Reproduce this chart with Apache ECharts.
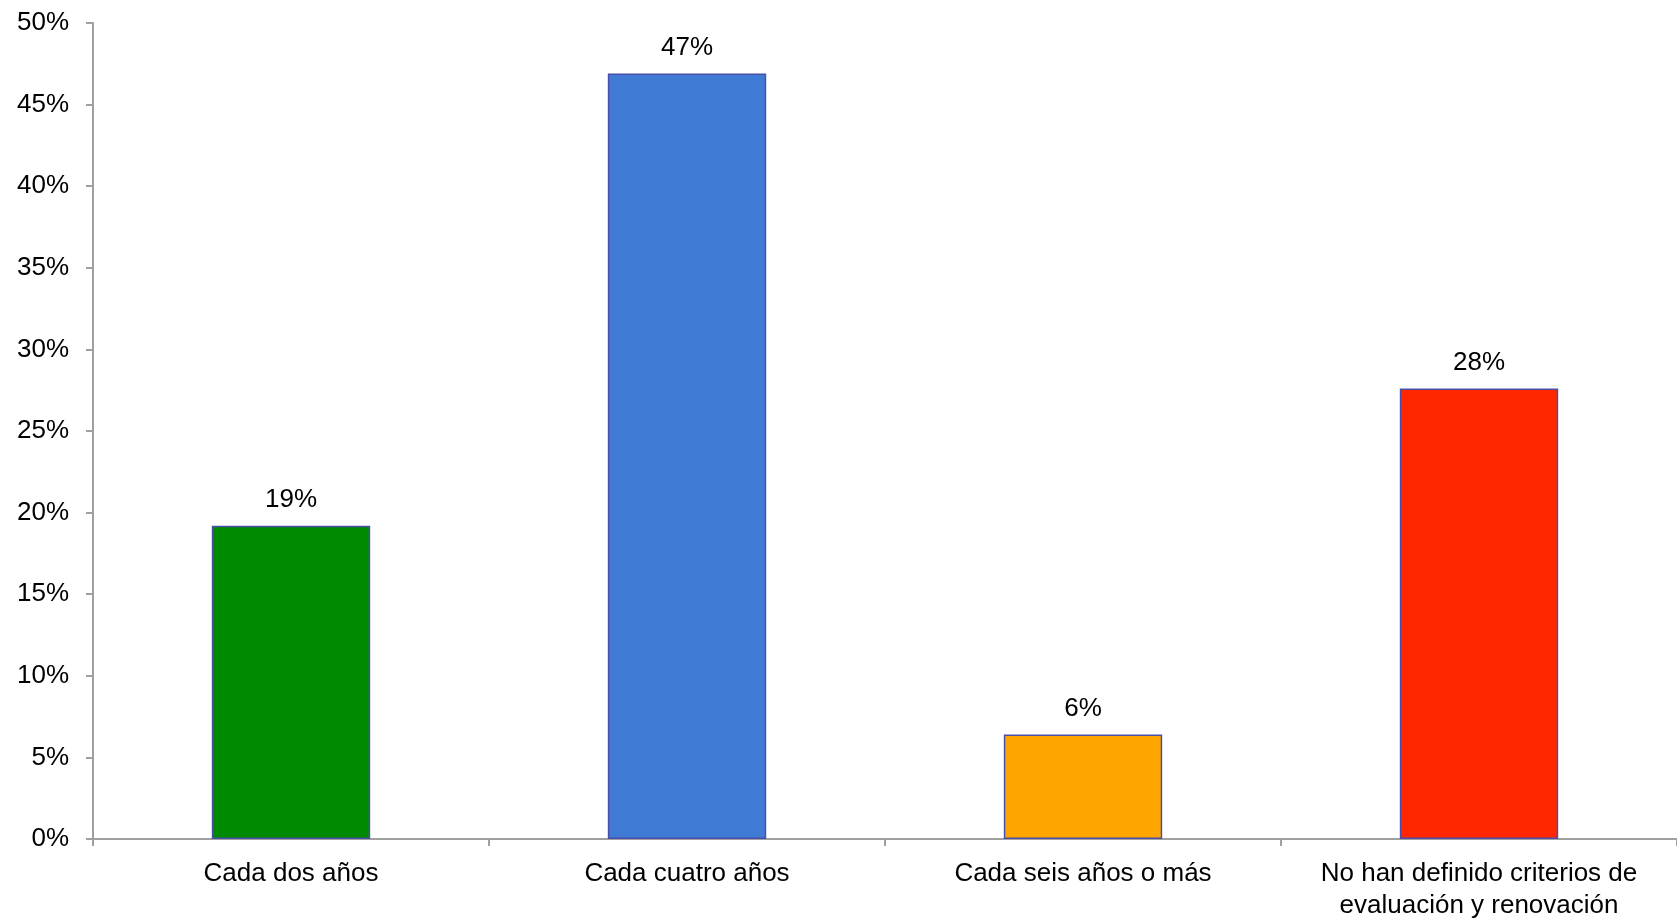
<!DOCTYPE html>
<html>
<head>
<meta charset="utf-8">
<script src="https://cdn.jsdelivr.net/npm/echarts@6/dist/echarts.min.js"></script>
<style>
html,body{margin:0;padding:0;background:#fff;}
#chart{width:1677px;height:922px;}
</style>
</head>
<body>
<div id="chart"></div>
<script>
const categories = ["Cada dos años", "Cada cuatro años", "Cada seis años o más", "No han definido criterios de\nevaluación y renovación"];
const values = [0.192, 0.469, 0.064, 0.276];
const barColors = ["#008a00", "#3f7bd4", "#ffa500", "#ff2600"];
const yMin = 0, yMax = 0.5, yStep = 0.05;

const chart = echarts.init(document.getElementById('chart'));
const font = "'Liberation Sans', Arial, Helvetica, sans-serif";
chart.setOption({
  backgroundColor: '#ffffff',
  animation: false,
  grid: { left: 93, top: 23, width: 1602, height: 818 },
  xAxis: {
    type: 'category',
    data: categories,
    axisLine: { lineStyle: { color: '#a0a0a0', width: 2 } },
    axisTick: { show: true, length: 7, lineStyle: { color: '#a0a0a0', width: 2 } },
    axisLabel: { color: '#000', fontSize: 26, fontFamily: font, margin: 19, lineHeight: 32, interval: 0 }
  },
  yAxis: {
    type: 'value',
    min: yMin, max: yMax, interval: yStep,
    splitLine: { show: false },
    axisLine: { show: true, lineStyle: { color: '#a0a0a0', width: 2 } },
    axisTick: { show: true, length: 7, lineStyle: { color: '#a0a0a0', width: 2 } },
    axisLabel: { color: '#000', fontSize: 26, fontFamily: font, margin: 24,
      formatter: v => Math.round(v * 100) + '%' }
  },
  series: [{
    type: 'bar',
    barWidth: '40%',
    data: values.map((v, i) => ({ value: v, itemStyle: { color: barColors[i] } })),
    itemStyle: { borderColor: '#4b4ea8', borderWidth: 1.5 },
    label: {
      show: true, position: 'top', distance: 13,
      color: '#000', fontSize: 26, fontFamily: font,
      formatter: p => Math.round(p.value * 100) + '%'
    }
  }]
});
</script>
</body>
</html>
